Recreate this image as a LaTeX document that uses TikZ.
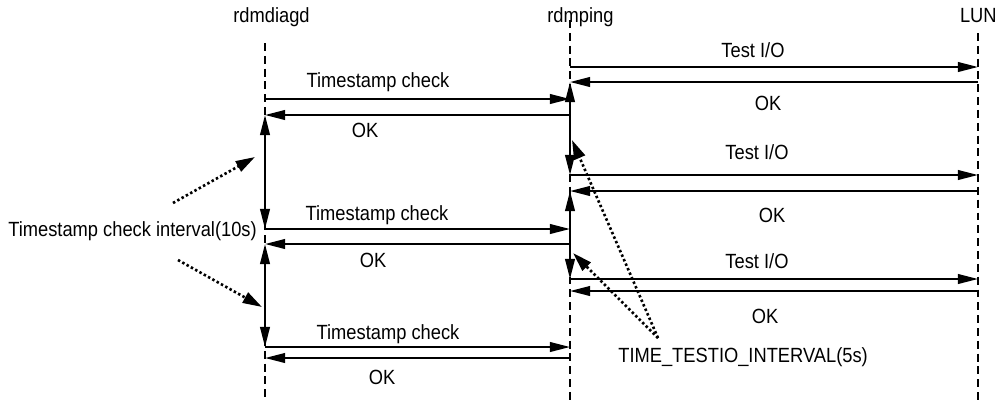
\documentclass[tikz,border=0pt]{standalone}
\usepackage{fontspec}
\setmainfont{Liberation Sans}[FakeStretch=0.89]
\usetikzlibrary{arrows.meta}
\begin{document}
\begin{tikzpicture}[x=0.02cm,y=-0.02cm,
  lbl/.style={font=\fontsize{11.7pt}{14pt}\selectfont, inner sep=0pt, anchor=base},
  life/.style={line width=0.7pt, dash pattern=on 4.5pt off 2.8pt},
  msg/.style={line width=1.2pt, -{Triangle[length=11.5pt,width=5.5pt]}},
  spanarr/.style={line width=1.2pt, {Triangle[length=11.5pt,width=5.5pt]}-{Triangle[length=11.5pt,width=5.5pt]}},
  hint/.style={line width=1.5pt, dash pattern=on 1.4pt off 1.4pt, -{Triangle[length=11pt,width=6.5pt]}}]
\useasboundingbox (0,0) rectangle (1000,403);

% lifeline headers
\node[lbl, anchor=base west] (hD) at (233,22) {rdmdiagd};
\node[lbl, anchor=base west] (hP) at (547,22) {rdmping};
\node[lbl, anchor=base east] (hL) at (997,22) {LUN};

% lifelines
\coordinate (Dtop) at (265,43);  \coordinate (Dbot) at (265,400);
\coordinate (Ptop) at (570,20);  \coordinate (Pbot) at (570,403);
\coordinate (Ltop) at (978,33);  \coordinate (Lbot) at (978,400);
\draw[life] (Dtop) -- (Dbot);
\draw[life] (Ptop) -- (Pbot);
\draw[life] (Ltop) -- (Lbot);

% points on rdmdiagd
\coordinate (D1) at (265,99);  \coordinate (D2) at (265,115);
\coordinate (D3) at (265,229); \coordinate (D4) at (265,244);
\coordinate (D5) at (265,347); \coordinate (D6) at (265,358);
% points on rdmping (left side)
\coordinate (P1) at (570,99);  \coordinate (P2) at (570,115);
\coordinate (P3) at (570,229); \coordinate (P4) at (570,244);
\coordinate (P5) at (570,347); \coordinate (P6) at (570,358);
% points on rdmping (right side)
\coordinate (Q1) at (570,67);  \coordinate (Q2) at (570,82);
\coordinate (Q3) at (570,175); \coordinate (Q4) at (570,191);
\coordinate (Q5) at (570,279); \coordinate (Q6) at (570,291);
% points on LUN
\coordinate (L1) at (978,67);  \coordinate (L2) at (978,82);
\coordinate (L3) at (978,175); \coordinate (L4) at (978,191);
\coordinate (L5) at (978,279); \coordinate (L6) at (978,291);

% Timestamp checks
\draw[msg] (D1) -- (P1);
\draw[msg] (P2) -- (D2);
\draw[msg] (D3) -- (P3);
\draw[msg] (P4) -- (D4);
\draw[msg] (D5) -- (P5);
\draw[msg] (P6) -- (D6);
\node[lbl] (tc1) at (378,87) {Timestamp check};
\node[lbl] (ok1) at (365,137) {OK};
\node[lbl] (tc2) at (377,220) {Timestamp check};
\node[lbl] (ok2) at (373,267) {OK};
\node[lbl] (tc3) at (388,339) {Timestamp check};
\node[lbl] (ok3) at (382,384) {OK};

% Test I/O
\draw[msg] (Q1) -- (L1);
\draw[msg] (L2) -- (Q2);
\draw[msg] (Q3) -- (L3);
\draw[msg] (L4) -- (Q4);
\draw[msg] (Q5) -- (L5);
\draw[msg] (L6) -- (Q6);
\node[lbl] (io1) at (753,57) {Test I/O};
\node[lbl] (rok1) at (768,110) {OK};
\node[lbl] (io2) at (757,159) {Test I/O};
\node[lbl] (rok2) at (772,222) {OK};
\node[lbl] (io3) at (757,268) {Test I/O};
\node[lbl] (rok3) at (765,323) {OK};

% interval spans
\draw[spanarr] (D2) -- (D3);
\draw[spanarr] (D4) -- (D5);
\draw[spanarr] (Q2) -- (Q3);
\draw[spanarr] (Q4) -- (Q5);

% interval labels
\node[lbl, anchor=base west] (tci) at (8,236) {Timestamp check interval(10s)};
\node[lbl, anchor=base west] (tti) at (618,362) {TIME\_TESTIO\_INTERVAL(5s)};

\coordinate (a1s) at (173,203); \coordinate (a1e) at (255,157);
\coordinate (a2s) at (178,260); \coordinate (a2e) at (262,307);
\coordinate (b0)  at (658,338);
\coordinate (b1e) at (572,140); \coordinate (b2e) at (573,253);
\draw[hint] (a1s) -- (a1e);
\draw[hint] (a2s) -- (a2e);
\draw[hint] (b0) -- (b1e);
\draw[hint] (b0) -- (b2e);
\end{tikzpicture}
\end{document}
